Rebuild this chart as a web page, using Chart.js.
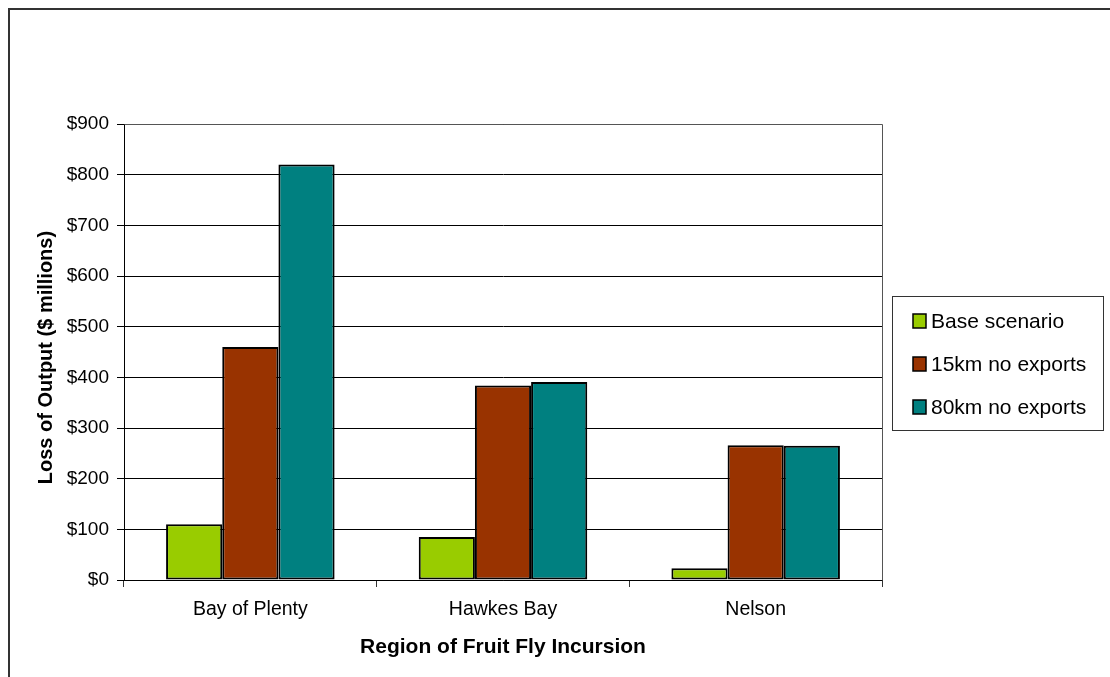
<!DOCTYPE html>
<html>
<head>
<meta charset="utf-8">
<script src="https://cdn.jsdelivr.net/npm/chart.js@4"></script>
<style>
html,body{margin:0;padding:0;background:#fff;}
#wrap{width:1110px;height:677px;position:relative;}
</style>
</head>
<body>
<div id="wrap"><canvas id="c" width="1110" height="677"></canvas></div>
<script>
const categories = ['Bay of Plenty', 'Hawkes Bay', 'Nelson'];
const seriesNames = ['Base scenario', '15km no exports', '80km no exports'];
const baseScenario = [110, 85, 23];
const km15NoExports = [460, 384, 266];
const km80NoExports = [820, 391, 265];
const yTickValues = [0, 100, 200, 300, 400, 500, 600, 700, 800, 900];
const colors = ['#99CC00', '#993300', '#008080'];

const FONT = '"Liberation Sans", Arial, sans-serif';

const decor = {
  id: 'decor',
  beforeDraw(chart) {
    const ctx = chart.ctx;
    ctx.save();
    ctx.fillStyle = '#fff';
    ctx.fillRect(0, 0, chart.width, chart.height);
    ctx.strokeStyle = '#333';
    ctx.lineWidth = 2;
    ctx.beginPath();
    ctx.moveTo(9, chart.height + 2);
    ctx.lineTo(9, 9);
    ctx.lineTo(chart.width + 2, 9);
    ctx.stroke();
    ctx.restore();
  },
  afterDatasetsDraw(chart) {
    const ctx = chart.ctx;
    const a = chart.chartArea;
    ctx.save();
    ctx.strokeStyle = '#555';
    ctx.lineWidth = 1;
    ctx.beginPath();
    ctx.moveTo(Math.round(a.left) + 0.5, Math.round(a.top) + 0.5);
    ctx.lineTo(Math.round(a.right) + 0.5, Math.round(a.top) + 0.5);
    ctx.lineTo(Math.round(a.right) + 0.5, Math.round(a.bottom) + 0.5);
    ctx.stroke();
    ctx.restore();
  },
  afterDraw(chart) {
    const ctx = chart.ctx;
    ctx.save();
    // legend frame
    const bx = 892, by = 296, bw = 211, bh = 134;
    ctx.strokeStyle = '#333';
    ctx.lineWidth = 1;
    ctx.strokeRect(bx + 0.5, by + 0.5, bw, bh);
    ctx.font = '21px ' + FONT;
    ctx.textBaseline = 'middle';
    ctx.textAlign = 'left';
    const ys = [321, 364, 407];
    chart.data.datasets.forEach((ds, i) => {
      const y = ys[i];
      ctx.fillStyle = ds.backgroundColor;
      ctx.fillRect(913, y - 7, 13, 14);
      ctx.strokeStyle = '#000';
      ctx.lineWidth = 1.5;
      ctx.strokeRect(913, y - 7, 13, 14);
      ctx.fillStyle = '#000';
      ctx.fillText(ds.label, 931, y + 1);
    });
    ctx.restore();
  }
};

new Chart(document.getElementById('c'), {
  type: 'bar',
  data: {
    labels: categories,
    datasets: [
      { label: seriesNames[0], data: baseScenario, backgroundColor: colors[0] },
      { label: seriesNames[1], data: km15NoExports, backgroundColor: colors[1] },
      { label: seriesNames[2], data: km80NoExports, backgroundColor: colors[2] }
    ].map(d => Object.assign(d, { borderColor: '#000', borderWidth: 2, borderSkipped: false,
      categoryPercentage: 0.667, barPercentage: 1 }))
  },
  options: {
    responsive: false,
    animation: false,
    events: [],
    layout: { padding: { left: 30, top: 124, right: 228, bottom: 0 } },
    plugins: { legend: { display: false }, tooltip: { enabled: false } },
    scales: {
      x: {
        offset: true,
        grid: { display: true, offset: true, drawOnChartArea: false, tickLength: 7, color: '#333' },
        border: { display: true, color: '#000', width: 1 },
        ticks: { font: { family: FONT, size: 19.5 }, color: '#000', padding: 11 },
        title: { display: true, text: 'Region of Fruit Fly Incursion',
          font: { family: FONT, size: 21, weight: 'bold' }, color: '#000', padding: { top: 4, bottom: 17 } },
        afterFit(s) { s.height = 97; }
      },
      y: {
        min: 0, max: 900,
        afterBuildTicks(s) { s.ticks = yTickValues.map(v => ({ value: v })); },
        grid: { color: '#000', lineWidth: 1, tickLength: 7 },
        border: { display: true, color: '#000', width: 1 },
        ticks: { font: { family: FONT, size: 19 }, color: '#000', padding: 8,
          callback: v => '$' + v },
        title: { display: true, text: 'Loss of Output ($ millions)\u00a0\u00a0',
          font: { family: FONT, size: 20, weight: 'bold' }, color: '#000', padding: { top: 4, bottom: 4 } },
        afterFit(s) { s.width = 94; }
      }
    }
  },
  plugins: [decor]
});
</script>
</body>
</html>
